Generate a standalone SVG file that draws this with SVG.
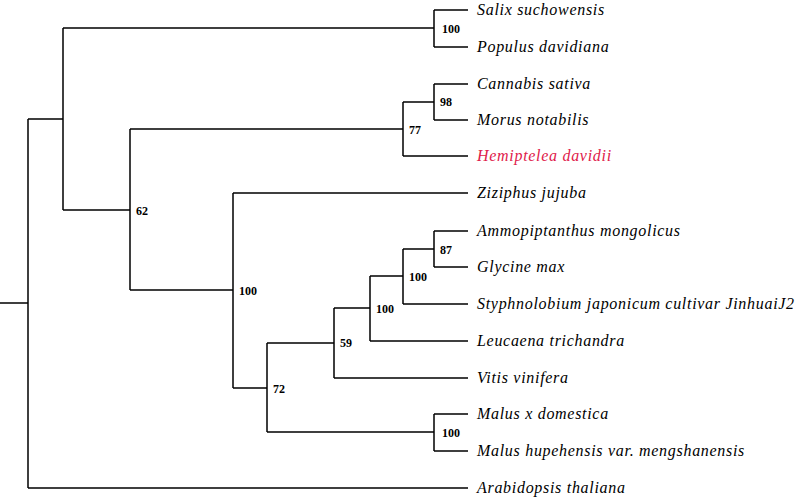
<svg xmlns="http://www.w3.org/2000/svg" width="800" height="501" viewBox="0 0 800 501">
<style>
.e{stroke:#000;stroke-width:1.5;fill:none}
.t{font-family:"Liberation Serif",serif;font-style:italic;font-size:16px;letter-spacing:0.7px}
.b{font-family:"Liberation Serif",serif;font-weight:bold;font-size:12px}
</style>
<rect width="800" height="501" fill="#fff"/>
<g id="connectors" class="e">
<path d="M0 303H28M28 119V488M28 119H63M28 488H468"/>
<path d="M63 28V210M63 28H434M63 210H130"/>
<path d="M434 10V47M434 10H468M434 47H468"/>
<path d="M130 129V290M130 129H403M130 290H233"/>
<path d="M403 102V156M403 102H434M403 156H468M434 84V120M434 84H468M434 120H468"/>
<path d="M233 193V388M233 193H468M233 388H267"/>
<path d="M267 343V432M267 343H334M267 432H434M434 414V451M434 414H468M434 451H468"/>
<path d="M334 308V378M334 308H370M334 378H468"/>
<path d="M370 276V341M370 276H403M370 341H468"/>
<path d="M403 249V304M403 249H434M403 304H468M434 231V267M434 231H468M434 267H468"/>
</g>
<g id="leaves" class="t">
<text x="477" y="15">Salix suchowensis</text>
<text x="477" y="52">Populus davidiana</text>
<text x="477" y="89">Cannabis sativa</text>
<text x="477" y="125">Morus notabilis</text>
<text x="477" y="161" fill="#e0204a">Hemiptelea davidii</text>
<text x="477" y="198">Ziziphus jujuba</text>
<text x="477" y="236">Ammopiptanthus mongolicus</text>
<text x="477" y="272">Glycine max</text>
<text x="477" y="309">Styphnolobium japonicum cultivar JinhuaiJ2</text>
<text x="477" y="346">Leucaena trichandra</text>
<text x="477" y="383">Vitis vinifera</text>
<text x="477" y="419">Malus x domestica</text>
<text x="477" y="456">Malus hupehensis var. mengshanensis</text>
<text x="477" y="493">Arabidopsis thaliana</text>
</g>
<g id="support" class="b">
<text x="442" y="33">100</text>
<text x="440" y="106">98</text>
<text x="409" y="134">77</text>
<text x="136" y="215">62</text>
<text x="239" y="295">100</text>
<text x="440" y="254">87</text>
<text x="409" y="281">100</text>
<text x="376" y="313">100</text>
<text x="340" y="347">59</text>
<text x="273" y="393">72</text>
<text x="442" y="437">100</text>
</g>
</svg>
